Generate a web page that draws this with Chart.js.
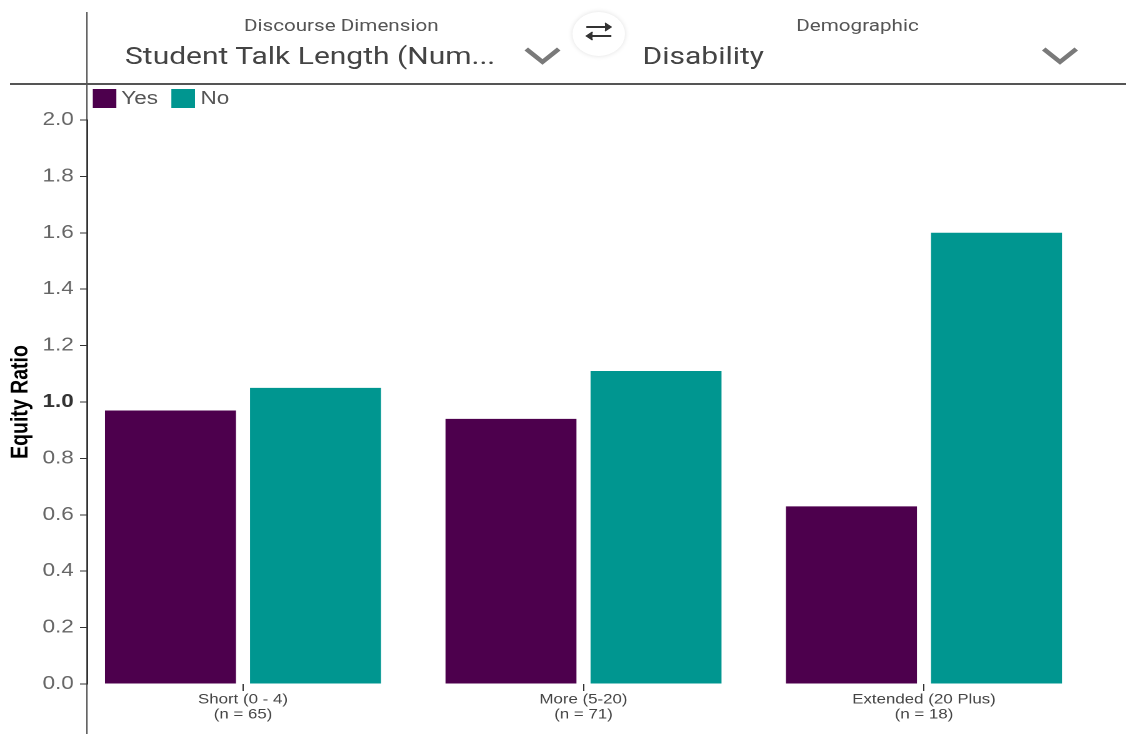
<!DOCTYPE html>
<html>
<head>
<meta charset="utf-8">
<script src="https://cdn.jsdelivr.net/npm/chart.js@4.4.1/dist/chart.umd.min.js"></script>
<style>
  html, body { margin: 0; padding: 0; background: #fff; overflow: hidden; }
  body { width: 1126px; height: 734px; position: relative; font-family: Roboto, "Noto Sans", sans-serif; }
  /* the reference is horizontally stretched, so the whole stage is too */
  #stage { position: absolute; left: 0; top: 0; width: 901px; height: 734px; transform: scaleX(1.25); transform-origin: 0 0; }
  #box { position: absolute; left: 0; top: 0; width: 901px; height: 734px; }
  .vline { position: absolute; left: 69px; top: 12px; width: 1.2px; height: 722px; background: #333; }
  .hline { position: absolute; left: 8px; top: 83px; width: 893px; height: 1.5px; background: #555; }
  .cap { position: absolute; top: 16px; font-size: 16.5px; color: #555; white-space: nowrap; transform: translateX(-50%); }
  .sel { position: absolute; top: 42px; font-size: 24px; color: #444; white-space: nowrap; }
  .chev { position: absolute; top: 46px; }
  .swap { position: absolute; left: 458px; top: 12px; width: 42px; height: 44px; border-radius: 50%; background: #fff; box-shadow: 0 0 5px rgba(0,0,0,0.13); }
  #legend { position: absolute; left: 74px; top: 89px; display: flex; font-family: 'Liberation Sans', Arial, sans-serif; font-size: 18px; color: #555; line-height: 19px; }
  #legend span.sw { display: inline-block; width: 19px; height: 19px; margin-right: 4px; }
  #legend span.item { display: flex; margin-right: 11px; }
</style>
</head>
<body>
<div id="stage">
  <div id="box"><canvas id="equityChart"></canvas></div>
  <div class="vline"></div>
  <div class="hline"></div>
  <div class="cap" style="left:273px">Discourse Dimension</div>
  <div class="sel" style="left:100px">Student Talk Length (Num...</div>
  <svg class="chev" style="left:419px" width="30" height="20"><polyline points="2,3 15,16 28,3" fill="none" stroke="#7a7a7a" stroke-width="4"/></svg>
  <div class="swap">
    <svg width="42" height="44">
      <line x1="11" y1="15" x2="30" y2="15" stroke="#333" stroke-width="2"/>
      <polyline points="26,11 31,15 26,19" fill="#333" stroke="#333" stroke-width="1"/>
      <line x1="12" y1="24" x2="31" y2="24" stroke="#333" stroke-width="2"/>
      <polyline points="16,20 11,24 16,28" fill="#333" stroke="#333" stroke-width="1"/>
    </svg>
  </div>
  <div class="cap" style="left:686px">Demographic</div>
  <div class="sel" style="left:514px">Disability</div>
  <svg class="chev" style="left:833px" width="30" height="20"><polyline points="2,3 15,16 28,3" fill="none" stroke="#7a7a7a" stroke-width="4"/></svg>
  <div id="legend"></div>
</div>
<script>
const categories = [
    ["Short (0 - 4)", "(n = 65)"],
    ["More (5-20)", "(n = 71)"],
    ["Extended (20 Plus)", "(n = 18)"]
];
const seriesNames = ["Yes", "No"];
const seriesColors = ["#4d004d", "#009690"];
const yesValues = [0.97, 0.94, 0.63];
const noValues = [1.05, 1.11, 1.60];
const yTicks = [0.0, 0.2, 0.4, 0.6, 0.8, 1.0, 1.2, 1.4, 1.6, 1.8, 2.0];

const axisFont = "'Liberation Sans', Arial, sans-serif";

const ctx = document.getElementById("equityChart").getContext("2d");

const equityChart = new Chart(ctx, {
    type: "bar",
    data: {
        datasets: [{
            label: seriesNames[0],
            data: yesValues.map((v, i) => ({ x: i, y: v })),
            backgroundColor: seriesColors[0]
        }, {
            label: seriesNames[1],
            data: noValues.map((v, i) => ({ x: i, y: v })),
            backgroundColor: seriesColors[1]
        }]
    },
    options: {
        responsive: true,
        maintainAspectRatio: false,
        animation: false,
        devicePixelRatio: 2,
        categoryPercentage: 0.852,
        barPercentage: 0.903,
        layout: { padding: { left: 0, top: 120, right: 15, bottom: 0 } },
        plugins: {
            tooltip: { enabled: false },
            legend: { display: false }
        },
        scales: {
            x: {
                type: "linear",
                offset: false,
                min: -0.4567,
                max: 2.539,
                afterBuildTicks: s => { s.ticks = categories.map((c, i) => ({ value: i })); },
                afterFit: s => { s.height = 50; },
                ticks: {
                    callback: (v, i) => categories[i],
                    autoSkip: false,
                    maxRotation: 0,
                    padding: 1,
                    color: "#444",
                    font: { family: axisFont, size: 13.5, lineHeight: 1.12 }
                },
                grid: { offset: false, drawOnChartArea: false, tickLength: 7, color: "#333" },
                border: { display: false }
            },
            y: {
                min: 0,
                max: 2.0,
                afterBuildTicks: s => { s.ticks = yTicks.map(v => ({ value: v })); },
                afterFit: s => { s.width = 70; },
                ticks: {
                    callback: v => v.toFixed(1),
                    padding: 5,
                    color: c => (c.tick && c.tick.value === 1 ? "#333" : "#666"),
                    font: c => ({ family: axisFont, size: 18, weight: (c.tick && c.tick.value === 1) ? "bold" : "normal" })
                },
                grid: { drawOnChartArea: false, tickLength: 6, color: "#333" },
                border: { color: "#333" },
                title: {
                    display: true,
                    text: "Equity Ratio",
                    color: "#000",
                    padding: { top: 5, bottom: 0 },
                    font: { family: axisFont, size: 19.5, weight: "bold" }
                }
            }
        }
    }
});

// legend as html, laid out like the original widget
const legendEl = document.getElementById("legend");
equityChart.data.datasets.forEach(ds => {
    const item = document.createElement("span");
    item.className = "item";
    const sw = document.createElement("span");
    sw.className = "sw";
    sw.style.background = ds.backgroundColor;
    item.appendChild(sw);
    item.appendChild(document.createTextNode(ds.label));
    legendEl.appendChild(item);
});
</script>
</body>
</html>
